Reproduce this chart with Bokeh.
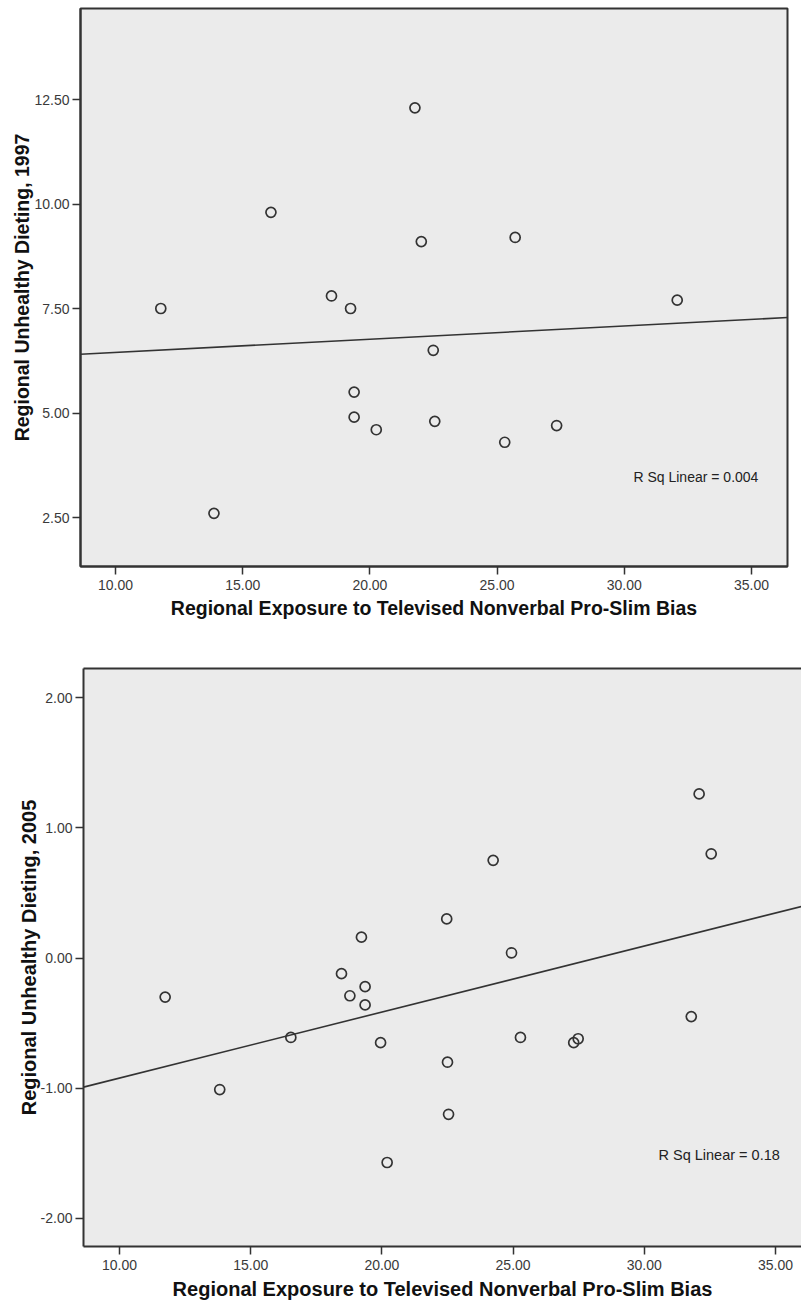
import numpy as np
from bokeh.plotting import figure
from bokeh.models import Range1d, FixedTicker, PrintfTickFormatter, Label, LinearAxis, ColumnDataSource
from bokeh.embed import file_html
from bokeh.resources import INLINE

# ---- data ----
exposure_1997 = [11.78, 13.87, 16.11, 18.49, 19.24, 19.38, 19.38, 20.25, 21.77, 22.02,
                 22.49, 22.55, 25.30, 25.71, 27.34, 32.08]
dieting_1997 = [7.50, 2.60, 9.80, 7.80, 7.50, 5.50, 4.90, 4.60, 12.30, 9.10,
                6.50, 4.80, 4.30, 9.20, 4.70, 7.70]

exposure_2005 = [11.74, 13.82, 16.53, 18.46, 18.78, 19.22, 19.36, 19.36, 19.95, 20.20,
                 22.47, 22.50, 22.54, 24.24, 24.94, 25.28, 27.31, 27.48, 31.79, 32.09, 32.55]
dieting_2005 = [-0.30, -1.01, -0.61, -0.12, -0.29, 0.16, -0.22, -0.36, -0.65, -1.57,
                0.30, -0.80, -1.20, 0.75, 0.04, -0.61, -0.65, -0.62, -0.45, 1.26, 0.80]

x_ticks = [10, 15, 20, 25, 30, 35]
y_ticks_1997 = [2.5, 5.0, 7.5, 10.0, 12.5]
y_ticks_2005 = [-2, -1, 0, 1, 2]

x_title = "Regional Exposure to Televised Nonverbal Pro-Slim Bias"
y_title_1997 = "Regional Unhealthy Dieting, 1997"
y_title_2005 = "Regional Unhealthy Dieting, 2005"
rsq_1997 = "R Sq Linear = 0.004"
rsq_2005 = "R Sq Linear = 0.18"

FONT = "Liberation Sans"
DARK = "#333333"
BG = "#ebebeb"


def style_axes(p, yticks, title_size, x_title_standoff):
    for ax in (p.xaxis, p.yaxis):
        ax.axis_line_color = DARK
        ax.axis_line_width = 2
        ax.major_tick_line_color = DARK
        ax.major_tick_line_width = 1.5
        ax.major_tick_in = 0
        ax.major_tick_out = 8
        ax.minor_tick_line_color = None
        ax.major_label_text_font = FONT
        ax.major_label_text_font_size = "14px"
        ax.major_label_text_color = "#3a3a3a"
        ax.axis_label_text_font = FONT
        ax.axis_label_text_font_style = "bold"
        ax.axis_label_text_font_size = title_size
        ax.axis_label_text_color = "#111111"
        ax.formatter = PrintfTickFormatter(format="%.2f")
    p.xaxis.ticker = FixedTicker(ticks=x_ticks)
    p.yaxis.ticker = FixedTicker(ticks=yticks)
    p.xaxis.major_label_standoff = 5
    p.yaxis.major_label_standoff = 3
    p.xaxis.axis_label_standoff = x_title_standoff
    p.yaxis.axis_label_standoff = -2
    p.xgrid.visible = False
    p.ygrid.visible = False


def add_data(p, xs, ys):
    src = ColumnDataSource(dict(x=xs, y=ys))
    slope, intercept = np.polyfit(np.array(xs), np.array(ys), 1)
    x0, x1 = p.x_range.start, p.x_range.end
    p.line([x0, x1], [intercept + slope * x0, intercept + slope * x1],
           line_color=DARK, line_width=1.6)
    p.scatter("x", "y", source=src, marker="circle", size=10,
              fill_color=None, line_color=DARK, line_width=1.7)


# ---- top chart (1997) ----
p1 = figure(width=801, height=640, output_backend="svg", toolbar_location=None,
            x_range=Range1d(8.624, 36.415), y_range=Range1d(1.328, 14.677),
            min_border_left=80, min_border_right=14, min_border_top=8, min_border_bottom=74,
            background_fill_color=BG, border_fill_color="white",
            outline_line_color=DARK, outline_line_width=2)
p1.xaxis.axis_label = x_title
p1.yaxis.axis_label = y_title_1997
style_axes(p1, y_ticks_1997, "19.5px", 4)
add_data(p1, exposure_1997, dieting_1997)
p1.add_layout(Label(x=30.36, y=3.46, text=rsq_1997, text_baseline="middle",
                    text_align="left", text_font=FONT, text_font_size="14px",
                    text_color="#222222"))

# ---- bottom chart (2005) ----
p2 = figure(width=801, height=664, output_backend="svg", toolbar_location=None,
            x_range=Range1d(8.628, 35.991), y_range=Range1d(-2.215, 2.2227),
            min_border_left=83, min_border_right=0, min_border_top=28, min_border_bottom=58,
            background_fill_color=BG, border_fill_color="white",
            outline_line_color=None)
p2.xaxis.axis_label = x_title
p2.yaxis.axis_label = y_title_2005
style_axes(p2, y_ticks_2005, "20px", 5)
top_axis = LinearAxis(ticker=FixedTicker(ticks=[]), axis_line_color=DARK, axis_line_width=2,
                      major_tick_line_color=None, minor_tick_line_color=None,
                      major_label_text_font_size="0px")
p2.add_layout(top_axis, "above")
add_data(p2, exposure_2005, dieting_2005)
p2.add_layout(Label(x=30.54, y=-1.509, text=rsq_2005, text_baseline="middle",
                    text_align="left", text_font=FONT, text_font_size="14.5px",
                    text_color="#222222"))

open("out.html", "w").write(file_html([p1, p2], INLINE))
